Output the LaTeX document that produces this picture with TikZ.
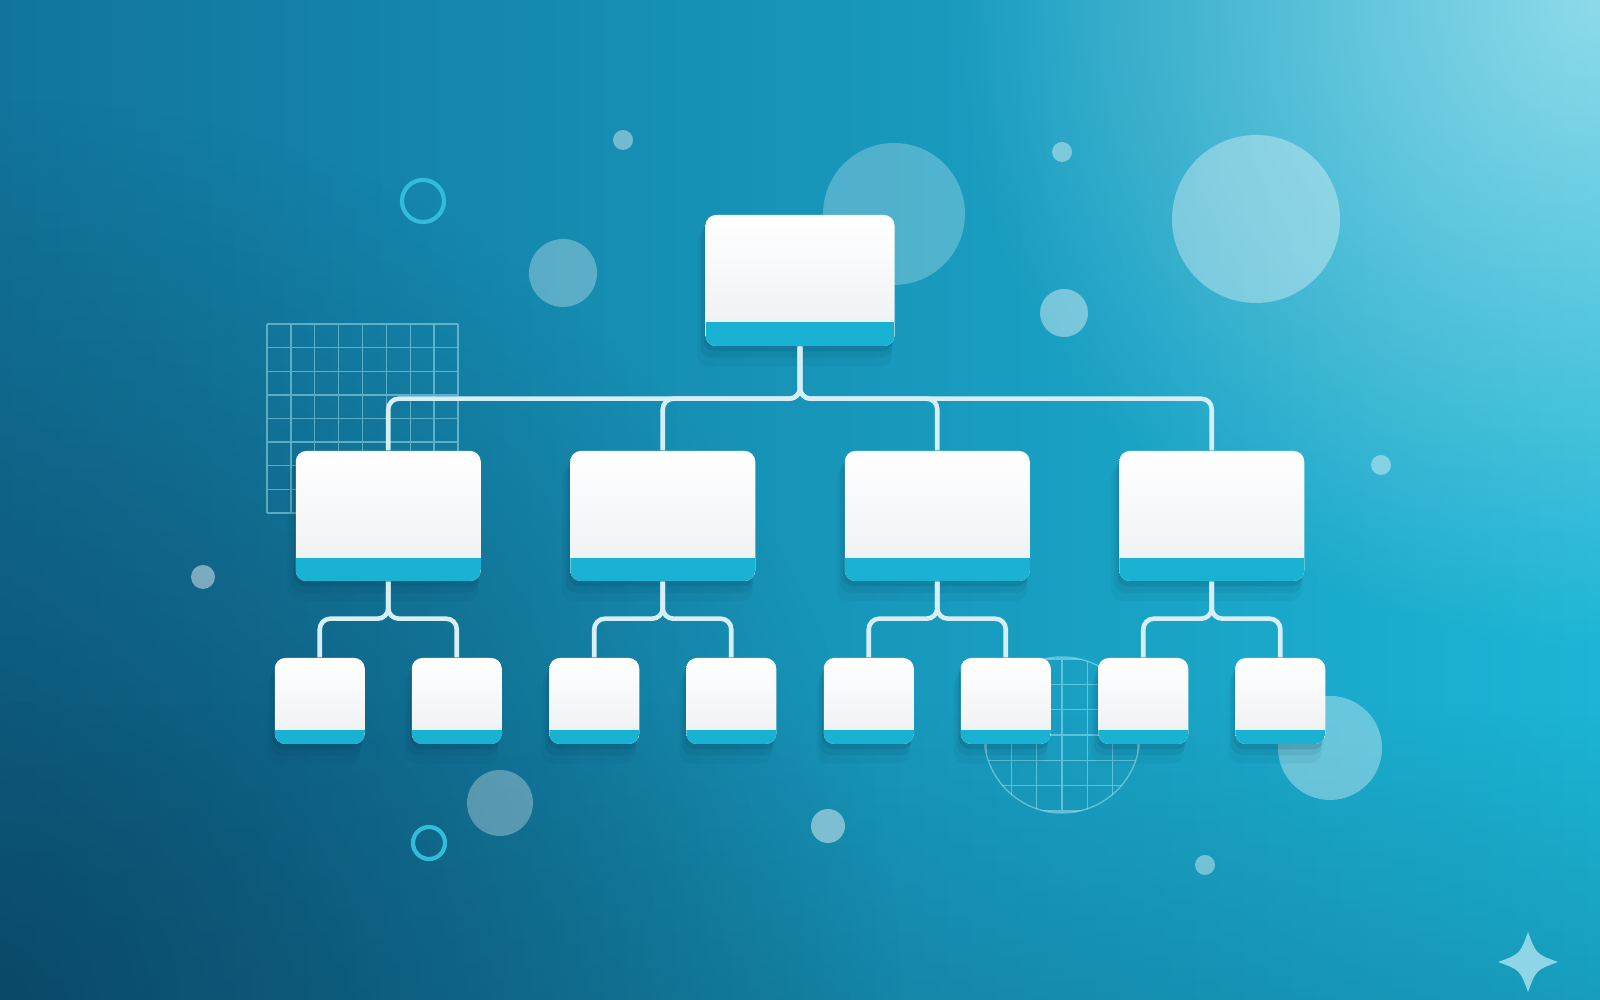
\documentclass[tikz,border=0pt]{standalone}
\usepackage{xcolor}
\usepackage{tikz}
\usetikzlibrary{shadows,fadings}

\definecolor{bgdark}{HTML}{12749C}
\definecolor{bgmid}{HTML}{16A4C7}
\definecolor{bglight}{HTML}{1CB5D5}
\definecolor{bgdeep}{HTML}{093F5C}
\definecolor{bandcyan}{HTML}{1AB2D2}
\definecolor{cardgray}{HTML}{ECEFF2}
\definecolor{linkcol}{HTML}{D6EFF7}
\definecolor{ringcol}{HTML}{33BCDA}
\definecolor{gridcol}{HTML}{A6E8F5}
\definecolor{starcol}{HTML}{8ED5E5}
\definecolor{shadowcol}{HTML}{05304A}

\tikzfading[name=glowfade, inner color=transparent!0, outer color=transparent!100]

\tikzset{
  softshadow/.style={
    drop shadow={shadow xshift=-0.5pt, shadow yshift=-1.5pt, opacity=0.12, fill=shadowcol},
    drop shadow={shadow xshift=-1pt, shadow yshift=-3pt, shadow scale=1.015, opacity=0.08, fill=shadowcol},
    drop shadow={shadow xshift=-1.5pt, shadow yshift=-5pt, shadow scale=1.03, opacity=0.05, fill=shadowcol}},
  card/.style={rounded corners=3pt, inner sep=0pt, top color=white, bottom color=cardgray, softshadow,
    path picture={\fill[bandcyan, sharp corners] (path picture bounding box.south west)
      rectangle ([yshift=#1]path picture bounding box.south east);}},
  rootcard/.style={card=0.24cm, minimum width=1.89cm, minimum height=1.31cm},
  seccard/.style={card=0.23cm, minimum width=1.85cm, minimum height=1.30cm},
  leafcard/.style={card=0.14cm, minimum width=0.90cm, minimum height=0.86cm},
  link/.style={draw=linkcol, line width=1.3pt, rounded corners=3pt},
  bubble/.style={fill=white, fill opacity=#1},
  ring/.style={draw=ringcol, line width=1.2pt},
  gridline/.style={draw=gridcol, line width=0.4pt, opacity=0.5},
}

\begin{document}
\begin{tikzpicture}
\useasboundingbox (0,0) rectangle (16,10);
% background
\fill[left color=bgdark, middle color=bgmid, right color=bglight] (0,0) rectangle (16,10);
\fill[bgdeep, path fading=glowfade, fill opacity=0.75] (0,0) circle (9);
\fill[bgdeep, path fading=north, fill opacity=0.2] (0,0) rectangle (16,3);
\fill[white, path fading=glowfade, fill opacity=0.5] (16,10) circle (6.5);

% grids
\draw[gridline, shift={(2.67,4.87)}] (0,0) grid[xstep=0.23875, ystep=0.23625] (1.911,1.891);
\begin{scope}
\clip (10.62,2.65) circle (0.78);
\draw[gridline, shift={(10.62,2.65)}] (-0.8,-0.8) grid[step=0.253] (0.8,0.8);
\end{scope}
\draw[gridline] (10.62,2.65) circle (0.78);

% bubbles
\fill[bubble=0.35] (12.56,7.81) circle (0.84);
\fill[bubble=0.25] (8.94,7.86) circle (0.71);
\fill[bubble=0.3] (5.63,7.27) circle (0.34);
\fill[bubble=0.4] (10.64,6.87) circle (0.24);
\fill[bubble=0.4] (6.23,8.60) circle (0.10);
\fill[bubble=0.4] (10.62,8.48) circle (0.10);
\fill[bubble=0.45] (2.03,4.23) circle (0.12);
\fill[bubble=0.4] (13.81,5.35) circle (0.10);
\fill[bubble=0.3] (5.00,1.97) circle (0.33);
\fill[bubble=0.45] (8.28,1.74) circle (0.17);
\fill[bubble=0.4] (12.05,1.35) circle (0.10);
\fill[bubble=0.35] (13.30,2.52) circle (0.52);
\draw[ring] (4.23,7.99) circle (0.21);
\draw[ring] (4.29,1.57) circle (0.16);
\fill[starcol, shift={(15.28,0.38)}] (0,0.3) .. controls (0.08,0.08) .. (0.3,0)
  .. controls (0.08,-0.08) .. (0,-0.3) .. controls (-0.08,-0.08) .. (-0.3,0)
  .. controls (-0.08,0.08) .. (0,0.3) -- cycle;

% chart
\node[rootcard] (root) at (8,7.195) {};
\node[seccard] (sec1) at (3.8825,4.84) {};
\node[seccard] (sec2) at (6.6275,4.84) {};
\node[seccard] (sec3) at (9.3725,4.84) {};
\node[seccard] (sec4) at (12.1175,4.84) {};
\node[leafcard] (leaf1) at (3.1975,2.99) {};
\node[leafcard] (leaf2) at (4.5675,2.99) {};
\node[leafcard] (leaf3) at (5.9425,2.99) {};
\node[leafcard] (leaf4) at (7.3125,2.99) {};
\node[leafcard] (leaf5) at (8.6875,2.99) {};
\node[leafcard] (leaf6) at (10.0575,2.99) {};
\node[leafcard] (leaf7) at (11.4325,2.99) {};
\node[leafcard] (leaf8) at (12.8025,2.99) {};

\draw[link] (root.south) -- ++(0,-0.52) -| (sec1.north);
\draw[link] (root.south) -- ++(0,-0.52) -| (sec2.north);
\draw[link] (root.south) -- ++(0,-0.52) -| (sec3.north);
\draw[link] (root.south) -- ++(0,-0.52) -| (sec4.north);
\draw[link] (sec1.south) -- ++(0,-0.37) -| (leaf1.north);
\draw[link] (sec1.south) -- ++(0,-0.37) -| (leaf2.north);
\draw[link] (sec2.south) -- ++(0,-0.37) -| (leaf3.north);
\draw[link] (sec2.south) -- ++(0,-0.37) -| (leaf4.north);
\draw[link] (sec3.south) -- ++(0,-0.37) -| (leaf5.north);
\draw[link] (sec3.south) -- ++(0,-0.37) -| (leaf6.north);
\draw[link] (sec4.south) -- ++(0,-0.37) -| (leaf7.north);
\draw[link] (sec4.south) -- ++(0,-0.37) -| (leaf8.north);
\end{tikzpicture}
\end{document}
